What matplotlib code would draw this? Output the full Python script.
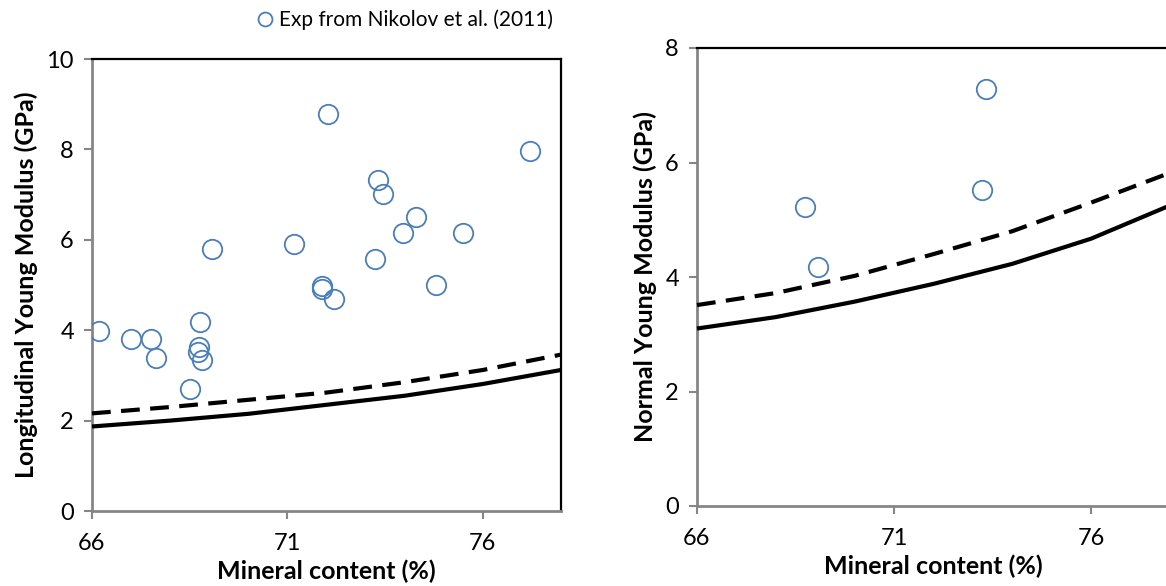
import matplotlib
matplotlib.use("Agg")
import matplotlib.pyplot as plt
from matplotlib.lines import Line2D

plt.rcParams['font.family'] = ['Lato', 'DejaVu Sans']

# ---- data ----
# Left panel: experimental longitudinal Young modulus
exp_long_x = [66.18, 66.99, 67.51, 67.64, 68.50, 68.76, 68.74, 68.70, 68.81, 69.06,
              71.17, 71.88, 71.88, 72.05, 72.18, 73.24, 73.33, 73.44, 73.96, 74.28,
              74.80, 75.50, 77.20]
exp_long_y = [3.99, 3.80, 3.80, 3.39, 2.69, 4.18, 3.63, 3.51, 3.35, 5.79,
              5.90, 4.97, 4.92, 8.78, 4.68, 5.57, 7.33, 7.01, 6.14, 6.51,
              4.99, 6.14, 7.97]

model_x = [66, 68, 70, 72, 74, 76, 78]
long_solid = [1.87, 2.00, 2.15, 2.35, 2.55, 2.81, 3.12]
long_dashed = [2.16, 2.30, 2.46, 2.62, 2.85, 3.12, 3.46]

# Right panel: experimental normal Young modulus
exp_norm_x = [68.75, 69.06, 73.32, 73.22]
exp_norm_y = [5.22, 4.18, 7.28, 5.52]

norm_solid = [3.10, 3.30, 3.57, 3.88, 4.23, 4.67, 5.25]
norm_dashed = [3.51, 3.72, 4.02, 4.40, 4.80, 5.30, 5.82]

x_ticks = [66, 71, 76]
legend_label = "Exp from Nikolov et al. (2011)"

# ---- style ----
W, H = 1166, 586
fig = plt.figure(figsize=(W / 100, H / 100), dpi=100)

blue = '#4a7ebb'
grey = '#868686'
tick_fs = 17
label_fs = 18


def px_axes(x0, x1, ytop, ybot):
    return fig.add_axes([x0 / W, (H - ybot) / H, (x1 - x0) / W, (ybot - ytop) / H])


def style(ax, ylim, yticks):
    ax.set_xlim(66, 78)
    ax.set_ylim(*ylim)
    ax.set_xticks(x_ticks)
    ax.set_yticks(yticks)
    for s in ['left', 'bottom']:
        ax.spines[s].set_color(grey)
        ax.spines[s].set_linewidth(2)
    for s in ['top', 'right']:
        ax.spines[s].set_color('black')
        ax.spines[s].set_linewidth(1.6)
    ax.tick_params(axis='both', direction='out', length=6, width=1.5,
                   color=grey, labelsize=tick_fs, labelcolor='black', pad=7)
    ax.tick_params(axis='x', pad=10)
    ax.set_xlabel('Mineral content (%)', fontsize=label_fs, fontweight='bold', labelpad=4)


def draw(ax, ex, ey, solid, dashed):
    ax.plot(model_x, solid, color='black', lw=3, solid_capstyle='butt', clip_on=False, zorder=3)
    ax.plot(model_x, dashed, color='black', lw=3, dashes=(4.5, 2.5), clip_on=False, zorder=3)
    ax.plot(ex, ey, linestyle='none', marker='o', markersize=14, markerfacecolor='none',
            markeredgecolor=blue, markeredgewidth=1.3, zorder=4)


ax1 = px_axes(92, 561, 59, 511)
style(ax1, (0, 10), [0, 2, 4, 6, 8, 10])
draw(ax1, exp_long_x, exp_long_y, long_solid, long_dashed)
ax1.set_ylabel('Longitudinal Young Modulus (GPa)', fontsize=label_fs, fontweight='bold', labelpad=6)

ax2 = px_axes(697, 1170, 48, 506)
style(ax2, (0, 8), [0, 2, 4, 6, 8])
draw(ax2, exp_norm_x, exp_norm_y, norm_solid, norm_dashed)
ax2.set_ylabel('Normal Young Modulus (GPa)', fontsize=label_fs, fontweight='bold', labelpad=6)

handle = Line2D([], [], linestyle='none', marker='o', markersize=10, markerfacecolor='none',
                markeredgecolor=blue, markeredgewidth=1.3)
fig.legend([handle], [legend_label], loc='center right', bbox_to_anchor=(563 / W, 1 - 20 / H),
           frameon=False, fontsize=15, handlelength=0.7, handletextpad=0.3, borderpad=0)

fig.savefig('out.png', dpi=100)
